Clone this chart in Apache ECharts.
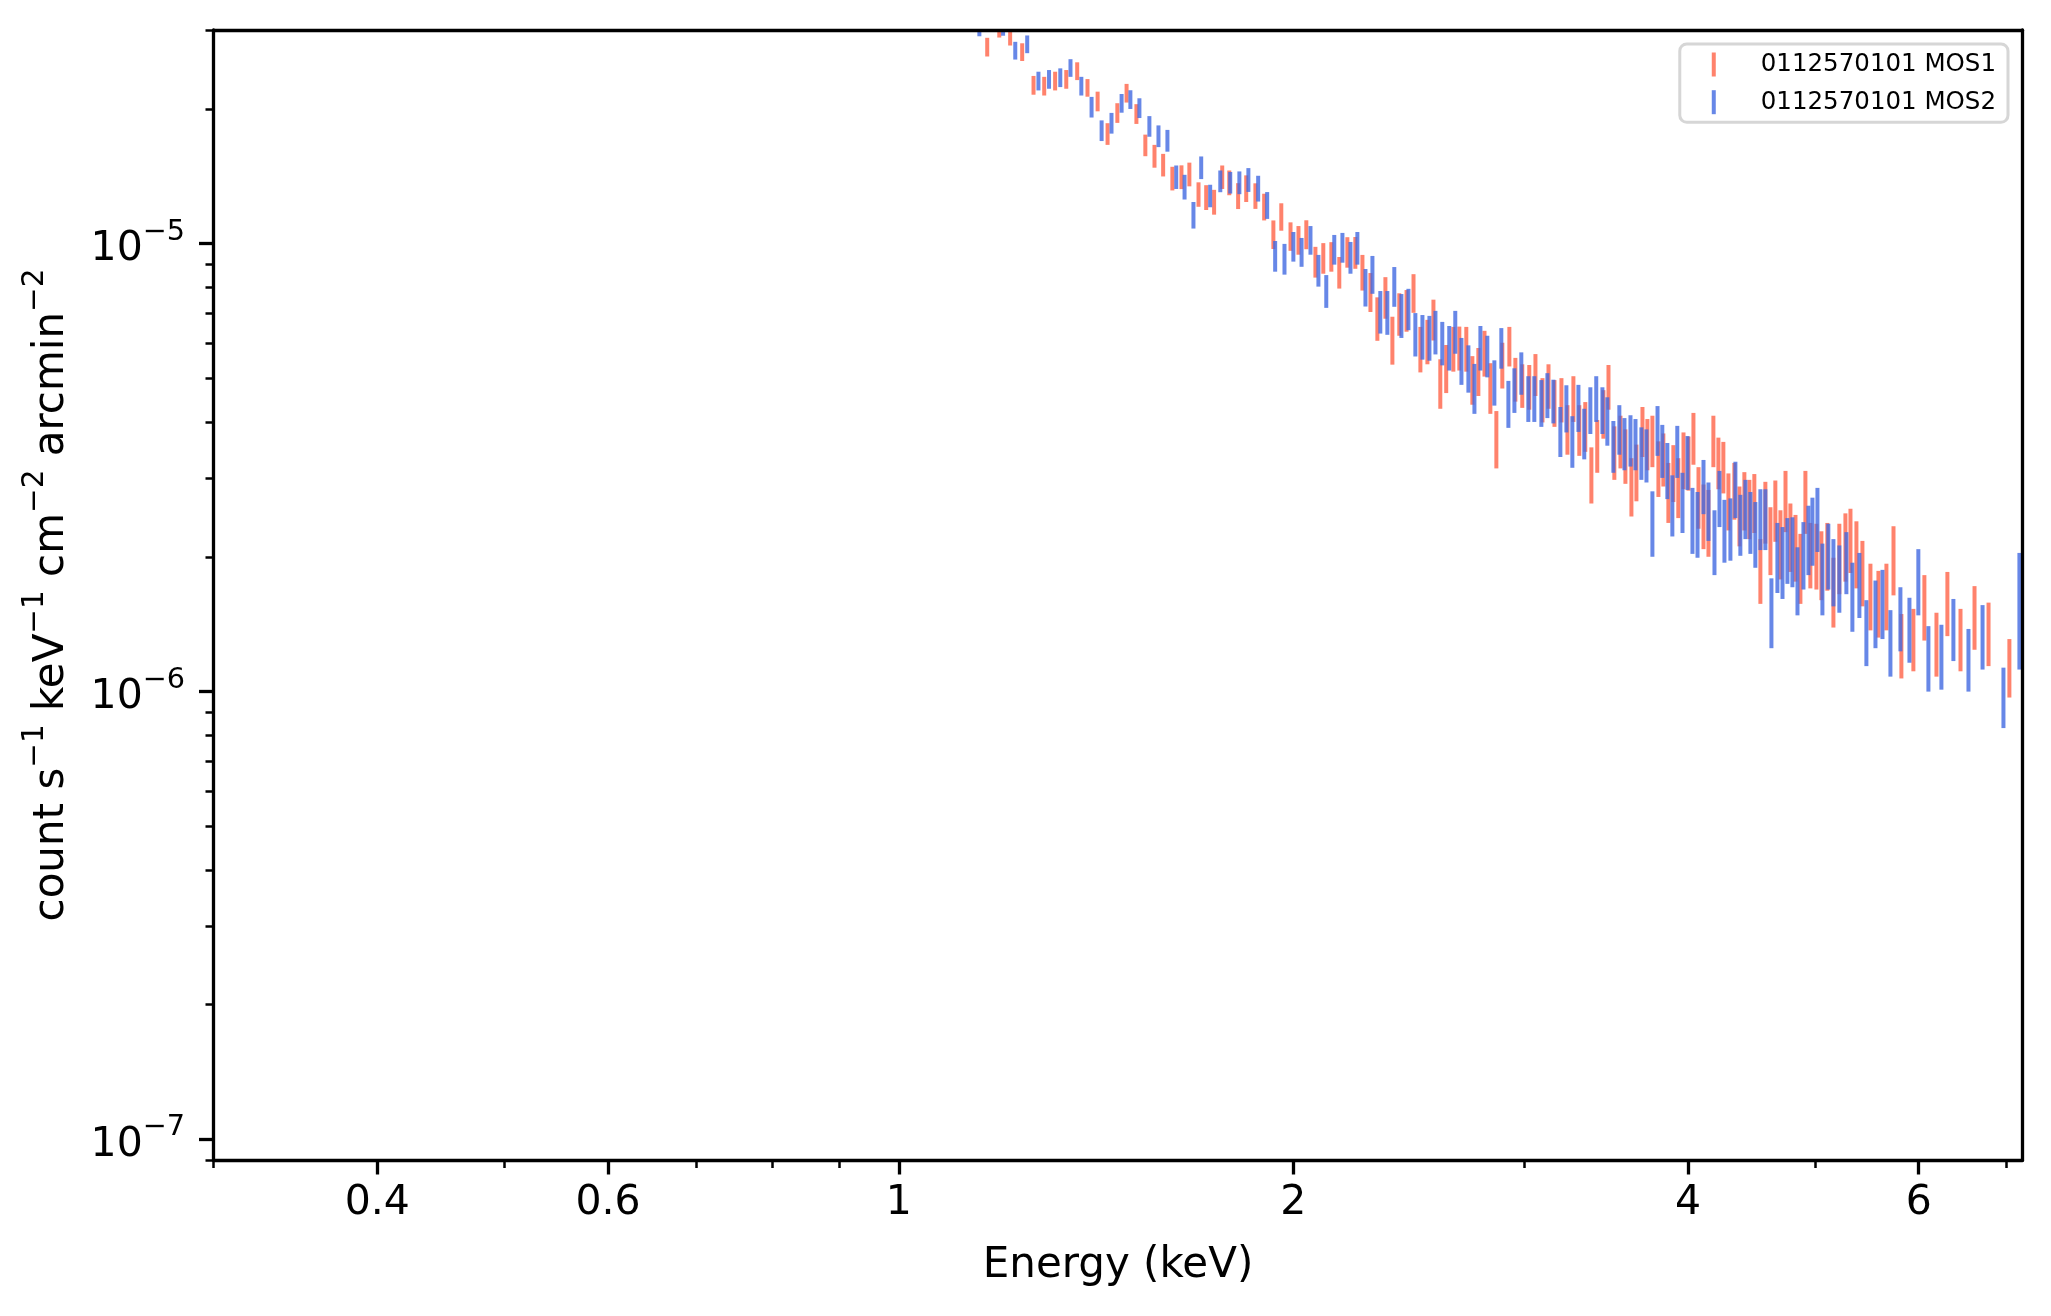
<!DOCTYPE html>
<html>
<head>
<meta charset="utf-8">
<script src="https://cdn.jsdelivr.net/npm/echarts@6/dist/echarts.min.js"></script>
<style>
html,body{margin:0;padding:0;background:#ffffff;}
#chart{width:2051px;height:1316px;}
</style>
</head>
<body>
<div id="chart"></div>
<script>
// Rates and errors are in units of 1e-6 count s^-1 keV^-1 cm^-2 arcmin^-2
const UNIT = 1e-6;

const mos1Label = '0112570101 MOS1';
const mos2Label = '0112570101 MOS2';

const mos1Energy = [1.168,1.193,1.216,1.242,1.267,1.291,1.316,1.342,1.368,1.393,
1.418,1.443,1.468,1.492,1.518,1.542,1.567,1.591,1.617,1.643,
1.666,1.693,1.716,1.740,1.765,1.787,1.815,1.841,1.871,1.900,
1.931,1.958,1.990,2.018,2.046,2.079,2.108,2.138,2.168,2.199,
2.230,2.258,2.290,2.318,2.351,2.380,2.409,2.440,2.470,2.500,
2.531,2.558,2.589,2.616,2.649,2.677,2.710,2.739,2.768,2.798,
2.827,2.857,2.887,2.923,2.954,2.990,3.027,3.060,3.098,3.131,
3.164,3.203,3.237,3.271,3.305,3.340,3.376,3.411,3.448,3.479,
3.515,3.553,3.584,3.622,3.654,3.693,3.725,3.758,3.798,3.831,
3.865,3.899,3.933,3.969,4.004,4.039,4.075,4.111,4.147,4.183,
4.220,4.257,4.295,4.340,4.379,4.417,4.456,4.495,4.543,4.583,
4.624,4.664,4.706,4.748,4.789,4.832,4.874,4.917,4.960,5.013,
5.057,5.110,5.165,5.219,5.275,5.322,5.378,5.435,5.512,5.590,
5.669,5.740,5.820,5.944,6.060,6.190,6.310,6.457,6.618,6.783,7.036];

const mos1Rate = [27.5,30.3,29.1,26.8,22.6,22.5,23.1,23.3,24.3,22.3,
20.8,17.6,19.6,21.7,19.5,16.6,15.7,15.0,14.0,14.1,
14.3,12.9,12.7,12.4,14.1,13.7,12.8,13.3,12.8,12.1,
10.5,11.5,10.4,10.2,10.5,9.12,9.30,9.37,8.64,9.59,
9.57,8.65,7.82,6.83,7.61,6.12,6.99,7.12,7.78,5.84,
6.07,6.79,4.90,5.29,5.85,5.87,5.85,4.99,5.21,5.72,
4.79,3.69,5.38,5.92,5.00,4.84,4.81,5.12,4.50,4.83,
4.43,4.50,3.87,4.53,3.86,3.93,3.07,3.56,4.19,4.81,
3.44,3.64,3.38,2.89,3.11,3.83,3.59,3.65,3.17,3.32,
2.81,3.10,2.88,3.31,3.26,3.70,2.74,2.49,2.41,3.65,
3.26,3.19,2.68,2.83,2.49,2.69,2.58,2.66,1.88,2.54,
2.20,2.56,2.16,2.69,2.24,2.12,1.91,2.68,2.04,2.03,
1.94,2.03,1.69,2.01,2.13,2.20,2.05,1.86,1.65,1.59,
1.65,1.99,1.28,1.32,1.56,1.29,1.59,1.32,1.48,1.36,1.14];

const mos1Err = [1.32,1.44,1.40,1.22,1.09,1.08,1.11,1.12,1.11,1.01,
1.05,0.98,0.99,1.04,0.99,0.92,0.92,0.87,0.85,0.86,
0.87,0.81,0.81,0.79,0.85,0.87,0.85,0.91,0.84,0.83,
0.77,0.81,0.76,0.75,0.78,0.72,0.73,0.71,0.70,0.75,
0.78,0.79,0.78,0.76,0.81,0.75,0.76,0.76,0.77,0.68,
0.69,0.71,0.62,0.65,0.67,0.66,0.67,0.62,0.64,0.67,
0.62,0.54,0.63,0.60,0.56,0.54,0.55,0.55,0.51,0.55,
0.53,0.51,0.49,0.53,0.50,0.50,0.44,0.48,0.52,0.55,
0.47,0.49,0.47,0.43,0.45,0.49,0.47,0.48,0.45,0.45,
0.43,0.45,0.44,0.48,0.45,0.49,0.43,0.41,0.41,0.48,
0.43,0.42,0.39,0.41,0.38,0.40,0.39,0.40,0.31,0.40,
0.38,0.40,0.38,0.42,0.39,0.36,0.34,0.43,0.34,0.34,
0.34,0.35,0.30,0.36,0.37,0.36,0.35,0.31,0.28,0.27,
0.28,0.35,0.21,0.21,0.26,0.21,0.26,0.21,0.24,0.22,0.17];

const mos2Energy = [1.152,1.201,1.227,1.253,1.278,1.302,1.328,1.352,1.378,1.403,
1.428,1.453,1.479,1.502,1.526,1.553,1.578,1.603,1.628,1.652,
1.678,1.701,1.728,1.759,1.790,1.819,1.848,1.880,1.910,1.937,
1.969,2.000,2.029,2.061,2.090,2.119,2.149,2.180,2.211,2.238,
2.270,2.298,2.330,2.359,2.388,2.418,2.448,2.478,2.509,2.540,
2.567,2.598,2.630,2.658,2.687,2.720,2.749,2.778,2.812,2.847,
2.882,2.918,2.949,2.985,3.022,3.054,3.092,3.125,3.158,3.197,
3.231,3.265,3.300,3.334,3.370,3.405,3.442,3.472,3.509,3.546,
3.578,3.616,3.648,3.686,3.719,3.758,3.792,3.824,3.858,3.892,
3.926,3.962,3.997,4.032,4.068,4.111,4.147,4.191,4.228,4.265,
4.310,4.348,4.386,4.425,4.464,4.503,4.543,4.583,4.632,4.681,
4.723,4.764,4.806,4.849,4.900,4.943,4.978,5.022,5.066,5.119,
5.165,5.219,5.284,5.340,5.406,5.473,5.561,5.630,5.709,5.810,
5.903,5.996,6.103,6.244,6.377,6.548,6.712,6.963,7.161];

const mos2Rate = [30.5,30.6,27.0,27.9,23.1,23.3,23.5,24.7,22.5,20.2,
17.9,18.6,20.6,21.0,20.1,18.3,17.4,17.0,14.1,13.4,
11.6,14.8,12.8,13.8,13.7,13.7,13.9,13.3,12.2,9.40,
9.26,9.87,9.59,10.2,8.73,7.85,9.72,9.82,9.33,9.80,
8.01,8.56,7.07,7.05,8.05,6.94,7.17,6.30,6.22,6.19,
6.37,6.02,5.88,6.38,5.50,5.29,4.78,5.88,5.63,4.92,
5.87,4.41,4.73,5.16,4.53,4.53,4.43,4.61,4.47,3.83,
4.31,3.64,4.32,3.79,4.27,4.53,4.27,4.04,3.55,3.87,
3.60,3.66,3.59,3.43,3.39,2.40,3.85,3.47,3.14,2.63,
3.46,2.67,3.27,2.44,2.39,2.89,2.55,2.18,2.72,2.31,
2.33,2.85,2.38,2.58,2.41,2.27,2.45,2.45,1.52,2.02,
1.97,2.09,2.08,1.79,2.04,2.21,2.31,2.45,1.81,2.03,
1.87,1.81,1.96,1.65,1.75,1.37,1.51,1.59,1.30,1.47,
1.39,1.78,1.20,1.21,1.39,1.19,1.34,0.980,1.58];

const mos2Err = [1.45,1.47,1.23,1.27,1.11,1.12,1.13,1.12,1.08,1.07,
0.95,0.99,0.99,1.01,1.02,0.97,0.97,0.95,0.85,0.85,
0.79,0.86,0.74,0.77,0.76,0.80,0.85,0.88,0.84,0.74,
0.73,0.75,0.71,0.75,0.71,0.66,0.74,0.75,0.76,0.82,
0.77,0.83,0.77,0.79,0.82,0.78,0.76,0.70,0.71,0.71,
0.71,0.67,0.67,0.70,0.66,0.64,0.61,0.67,0.60,0.57,
0.61,0.53,0.54,0.56,0.53,0.53,0.53,0.53,0.50,0.49,
0.52,0.48,0.52,0.49,0.51,0.53,0.51,0.50,0.47,0.49,
0.48,0.48,0.47,0.46,0.46,0.40,0.49,0.47,0.45,0.41,
0.46,0.41,0.45,0.41,0.40,0.40,0.38,0.36,0.39,0.37,
0.37,0.41,0.37,0.39,0.38,0.38,0.38,0.38,0.27,0.36,
0.36,0.35,0.37,0.31,0.35,0.39,0.40,0.40,0.33,0.34,
0.32,0.31,0.31,0.29,0.29,0.23,0.26,0.28,0.22,0.24,
0.23,0.30,0.20,0.20,0.22,0.19,0.22,0.151,0.46];

const xMajorTicks = [0.4, 0.6, 1, 2, 4, 6];
const xMinorTicks = [0.3, 0.5, 0.7, 0.8, 0.9, 3, 5, 7];
const yMajorTicks = [1e-7, 1e-6, 1e-5];
const yMinorTicks = [9e-8, 2e-7, 3e-7, 4e-7, 5e-7, 6e-7, 7e-7, 8e-7, 9e-7,
  2e-6, 3e-6, 4e-6, 5e-6, 6e-6, 7e-6, 8e-6, 9e-6, 2e-5, 3e-5];
const xRange = [0.3, 7.2];
const yRange = [9e-8, 3e-5];

const xTitle = 'Energy (keV)';
const FONT = 'DejaVu Sans';

function toBars(E, R, S) {
  const n = Math.min(E.length, R.length, S.length);
  const out = [];
  for (let i = 0; i < n; i++) out.push([E[i], (R[i] - S[i]) * UNIT, (R[i] + S[i]) * UNIT]);
  return out;
}

function renderBar(params, api) {
  const x = api.value(0);
  const top = api.coord([x, api.value(2)]);
  const bot = api.coord([x, api.value(1)]);
  const cs = params.coordSys;
  const shape = echarts.graphic.clipRectByRect(
    {x: top[0] - 2, y: top[1], width: 4, height: bot[1] - top[1]},
    {x: cs.x, y: cs.y, width: cs.width, height: cs.height});
  if (!shape) return;
  return {type: 'rect', shape: shape, style: {fill: api.visual('color')}};
}

const tickRich = {
  b: {fontFamily: FONT, fontSize: 41, color: '#000', lineHeight: 52, verticalAlign: 'bottom'},
  s: {fontFamily: FONT, fontSize: 28.7, color: '#000', lineHeight: 30, verticalAlign: 'top'}
};
const nameRich = {
  b: {fontFamily: FONT, fontSize: 42, color: '#000', lineHeight: 53, verticalAlign: 'bottom'},
  s: {fontFamily: FONT, fontSize: 29.4, color: '#000', lineHeight: 31, verticalAlign: 'top'}
};

const chart = echarts.init(document.getElementById('chart'), null, {renderer: 'canvas'});
const option = {
  animation: false,
  backgroundColor: '#ffffff',
  textStyle: {fontFamily: FONT},
  grid: {left: 213.5, right: 28.5, top: 30, bottom: 156, show: false},
  legend: {
    orient: 'vertical', right: 43, top: 44,
    padding: [8, 12, 7.6, 32],
    itemWidth: 4, itemHeight: 24, itemGap: 12.7,
    icon: 'rect',
    backgroundColor: '#ffffff',
    borderColor: '#d6d6d6', borderWidth: 3, borderRadius: 7,
    textStyle: {fontFamily: FONT, fontSize: 24.5, color: '#000', lineHeight: 24, padding: [0, 0, 0, 40]},
    data: [mos1Label, mos2Label]
  },
  xAxis: [
    {
      type: 'log', logBase: 10, min: xRange[0], max: xRange[1], position: 'bottom', z: 10,
      name: xTitle, nameLocation: 'middle', nameGap: 85,
      nameTextStyle: {fontFamily: FONT, fontSize: 42, color: '#000'},
      axisLine: {show: true, lineStyle: {color: '#000', width: 3.3}},
      axisTick: {show: true, customValues: xMajorTicks, length: 14.5, lineStyle: {color: '#000', width: 3.3}},
      axisLabel: {show: true, customValues: xMajorTicks, margin: 23, fontFamily: FONT, fontSize: 41, color: '#000',
        formatter: function (v) { return String(Math.round(v * 10) / 10); }},
      splitLine: {show: false}, minorTick: {show: false}, minorSplitLine: {show: false}
    },
    {
      type: 'log', logBase: 10, min: xRange[0], max: xRange[1], position: 'bottom', z: 10,
      axisLine: {show: false},
      axisTick: {show: true, customValues: xMinorTicks, length: 8, lineStyle: {color: '#000', width: 2.5}},
      axisLabel: {show: false}, splitLine: {show: false}
    },
    {
      type: 'log', logBase: 10, min: xRange[0], max: xRange[1], position: 'top', z: 10,
      axisLine: {show: true, lineStyle: {color: '#000', width: 3.3}},
      axisTick: {show: false}, axisLabel: {show: false}, splitLine: {show: false}
    }
  ],
  yAxis: [
    {
      type: 'log', logBase: 10, min: yRange[0], max: yRange[1], position: 'left', z: 10,
      name: '{b|count s}{s|−1}{b| keV}{s|−1}{b| cm}{s|−2}{b| arcmin}{s|−2}',
      nameLocation: 'middle', nameRotate: 90, nameGap: 140,
      nameTextStyle: {fontFamily: FONT, fontSize: 42, color: '#000', rich: nameRich},
      axisLine: {show: true, lineStyle: {color: '#000', width: 3.3}},
      axisTick: {show: true, customValues: yMajorTicks, length: 14.5, lineStyle: {color: '#000', width: 3.3}},
      axisLabel: {show: true, customValues: yMajorTicks, margin: 28.5, fontFamily: FONT, fontSize: 41, color: '#000',
        rich: tickRich,
        formatter: function (v) { const e = Math.round(Math.log10(v)); return '{b|10}{s|−' + Math.abs(e) + '}'; }},
      splitLine: {show: false}, minorTick: {show: false}, minorSplitLine: {show: false}
    },
    {
      type: 'log', logBase: 10, min: yRange[0], max: yRange[1], position: 'left', z: 10,
      axisLine: {show: false},
      axisTick: {show: true, customValues: yMinorTicks, length: 8, lineStyle: {color: '#000', width: 2.5}},
      axisLabel: {show: false}, splitLine: {show: false}
    },
    {
      type: 'log', logBase: 10, min: yRange[0], max: yRange[1], position: 'right', z: 10,
      axisLine: {show: true, lineStyle: {color: '#000', width: 3.3}},
      axisTick: {show: false}, axisLabel: {show: false}, splitLine: {show: false}
    }
  ],
  series: [
    {
      name: mos1Label, type: 'custom', xAxisIndex: 0, yAxisIndex: 0,
      itemStyle: {color: 'rgba(255,99,71,0.8)'},
      renderItem: renderBar, encode: {x: 0, y: [1, 2]},
      data: toBars(mos1Energy, mos1Rate, mos1Err)
    },
    {
      name: mos2Label, type: 'custom', xAxisIndex: 0, yAxisIndex: 0,
      itemStyle: {color: 'rgba(65,105,225,0.8)'},
      renderItem: renderBar, encode: {x: 0, y: [1, 2]},
      data: toBars(mos2Energy, mos2Rate, mos2Err)
    }
  ]
};
chart.setOption(option);
</script>
</body>
</html>
